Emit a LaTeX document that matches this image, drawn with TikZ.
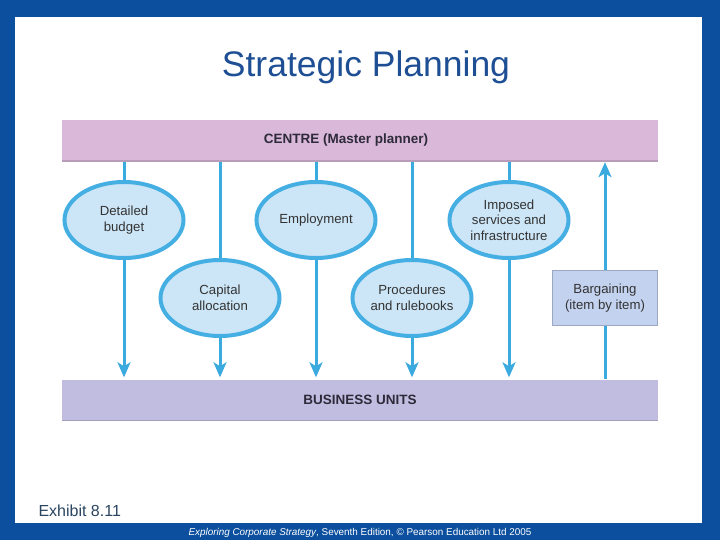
\documentclass[tikz,border=0pt]{standalone}
\usepackage{fontspec}
\setmainfont{Liberation Sans}
\usetikzlibrary{shapes.geometric, positioning, arrows.meta, backgrounds}
\definecolor{frameblue}{HTML}{0B4F9E}
\definecolor{titleblue}{HTML}{1E4F94}
\definecolor{centrepink}{HTML}{D9B8D9}
\definecolor{unitlilac}{HTML}{C1BDE0}
\definecolor{bartext}{HTML}{2E2A3A}
\definecolor{ellfill}{HTML}{CCE6F7}
\definecolor{ringblue}{HTML}{45AEE3}
\definecolor{lineblue}{HTML}{3BAADF}
\definecolor{dealfill}{HTML}{C3D2EF}
\definecolor{exhibitgrey}{HTML}{2A4560}

\begin{document}
\begin{tikzpicture}[x=1pt, y=-1pt, auto]

% Define styles
\tikzstyle{bar} = [rectangle, fill=centrepink, minimum width=596pt, minimum height=40pt, inner sep=0pt, text=bartext, font=\fontsize{13.5}{16}\selectfont\bfseries]
\tikzstyle{choice} = [ellipse, draw=ringblue, line width=4pt, fill=ellfill, minimum width=119pt, minimum height=76pt, inner sep=0pt, align=center, text=black!80, font=\fontsize{13.2}{15.5}\selectfont]
\tikzstyle{deal} = [rectangle, draw=dealfill!80!black, fill=dealfill, line width=1pt, minimum width=105pt, minimum height=55pt, inner sep=0pt, align=center, text=black!80, font=\fontsize{13.2}{15.5}\selectfont]
\tikzstyle{arrow} = [line width=3pt, draw=lineblue, -{Stealth[length=15pt, width=13pt, inset=4pt]}, shorten >=2pt]

% Slide frame
\useasboundingbox (0,0) rectangle (720,540);

% Title
\node [text=titleblue, font=\fontsize{35.5}{40}\selectfont] (title) at (366,67) {Strategic Planning};

% Centre and business units
\node [bar] (centre) at (360,140) {\hspace*{-28pt}CENTRE (Master planner)};
\node [bar, fill=unitlilac] (units) at (360,399.5) {BUSINESS UNITS};

% Upper row of controls
\node [choice] (budget) at (124,220) {Detailed\\budget};
\node [choice] (employment) at (316,220) {Employment};
\node [choice] (imposed) at (509,220) {Imposed\\services and\\infrastructure};

% Lower row of controls
\node [choice] (capital) at (220,298) {Capital\\allocation};
\node [choice] (procedures) at (412,298) {Procedures\\and rulebooks};
\node [deal] (bargain) at (605,298) {Bargaining\\(item by item)};

% Caption and footer
\node [anchor=base west, text=exhibitgrey, font=\fontsize{16}{18}\selectfont] (exhibit) at (35,516) {Exhibit 8.11};
\node [anchor=base, text=white, font=\fontsize{9.9}{11}\selectfont] (footer) at (360,535) {\textit{Exploring Corporate Strategy}, Seventh Edition, © Pearson Education Ltd 2005};

\begin{scope}[on background layer]
\fill [frameblue] (0,0) rectangle (720,540);
\fill [white] (15,17) rectangle (702,523);

% Arrows
\draw [arrow] (centre.south -| budget) -- (units.north -| budget);
\draw [arrow] (centre.south -| capital) -- (units.north -| capital);
\draw [arrow] (centre.south -| employment) -- (units.north -| employment);
\draw [arrow] (centre.south -| procedures) -- (units.north -| procedures);
\draw [arrow] (centre.south -| imposed) -- (units.north -| imposed);
\draw [arrow] (units.north -| bargain) -- (centre.south -| bargain);
\end{scope}

% Bevel edges of the bars
\draw [centrepink!85!black, line width=1.5pt] ([yshift=-1pt]centre.south west) -- ([yshift=-1pt]centre.south east);
\draw [unitlilac!85!black, line width=1.5pt] ([yshift=-1pt]units.south west) -- ([yshift=-1pt]units.south east);

\end{tikzpicture}
\end{document}
